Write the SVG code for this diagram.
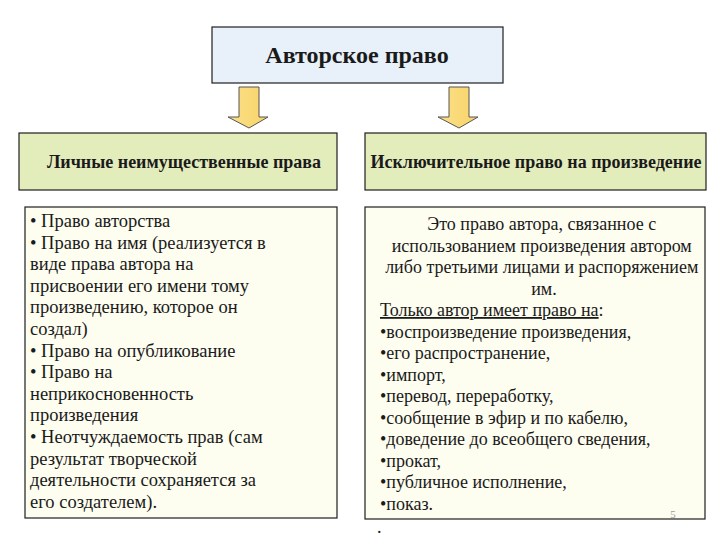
<svg xmlns="http://www.w3.org/2000/svg" width="720" height="540" viewBox="0 0 720 540" font-family="'Liberation Serif', 'DejaVu Serif', serif">
<defs>
<linearGradient id="ag" x1="0" y1="0" x2="1" y2="0">
<stop offset="0" stop-color="#fbe08a"/>
<stop offset="1" stop-color="#f8d468"/>
</linearGradient>
<style>
.box{stroke:#1e1e1e;stroke-width:1.2}
.top{fill:#e8f1fa}
.hdr{fill:#e3ecbb}
.cnt{fill:#fdfdf0}
.arrow{fill:url(#ag);stroke:#555;stroke-width:1}
text{font-family:'Liberation Serif','DejaVu Serif',serif;fill:#1a1a1a}
.title{font-size:24px;font-weight:bold}
.h{font-size:18px;font-weight:bold}
.b{font-size:18px}
.bl{font-size:18.5px}
</style>
</defs>
<rect width="720" height="540" fill="#ffffff"/>
<g id="top">
<rect class="box top" x="212" y="27" width="291" height="56"/>
<text class="title" x="357" y="63" text-anchor="middle">Авторское право</text>
</g>
<g id="connectors">
<path class="arrow" d="M239,87 H259 V117 H268 L249,128 L228,117 H239 Z"/>
<path class="arrow" d="M449,87 H469 V117 H478 L459,128 L438,117 H449 Z"/>
</g>
<g id="left-header">
<rect class="box hdr" x="19" y="133" width="318" height="57"/>
<text class="h" x="184" y="168" text-anchor="middle">Личные неимущественные права</text>
</g>
<g id="right-header">
<rect class="box hdr" x="365" y="133" width="341" height="57"/>
<text class="h" x="536" y="168" text-anchor="middle">Исключительное право на произведение</text>
</g>
<g id="left-content">
<rect class="box cnt" x="25" y="207" width="312" height="311"/>
<text class="bl">
<tspan x="30" y="227">• Право авторства</tspan>
<tspan x="30" y="248.6">• Право на имя (реализуется в</tspan>
<tspan x="30" y="270.2">виде права автора на</tspan>
<tspan x="30" y="291.8">присвоении его имени тому</tspan>
<tspan x="30" y="313.4">произведению, которое он</tspan>
<tspan x="30" y="335">создал)</tspan>
<tspan x="30" y="356.6">• Право на опубликование</tspan>
<tspan x="30" y="378.2">• Право на</tspan>
<tspan x="30" y="399.8">неприкосновенность</tspan>
<tspan x="30" y="421.4">произведения</tspan>
<tspan x="30" y="443">• Неотчуждаемость прав (сам</tspan>
<tspan x="30" y="464.6">результат творческой</tspan>
<tspan x="30" y="486.2">деятельности сохраняется за</tspan>
<tspan x="30" y="507.8">его создателем).</tspan>
</text>
</g>
<g id="right-content">
<rect class="box cnt" x="365" y="207" width="340" height="312"/>
<text class="b" text-anchor="middle">
<tspan x="544" y="230">Это право автора, связанное с</tspan>
<tspan x="544" y="251.5">использованием произведения автором</tspan>
<tspan x="544" y="273">либо третьими лицами и распоряжением</tspan>
<tspan x="544" y="294.5">им.</tspan>
</text>
<text class="b" x="380" y="316"><tspan text-decoration="underline">Только автор имеет право на</tspan>:</text>
<text class="b">
<tspan x="380" y="337.5">•воспроизведение произведения,</tspan>
<tspan x="380" y="359">•его распространение,</tspan>
<tspan x="380" y="380.5">•импорт,</tspan>
<tspan x="380" y="402">•перевод, переработку,</tspan>
<tspan x="380" y="423.5">•сообщение в эфир и по кабелю,</tspan>
<tspan x="380" y="445">•доведение до всеобщего сведения,</tspan>
<tspan x="380" y="466.5">•прокат,</tspan>
<tspan x="380" y="488">•публичное исполнение,</tspan>
<tspan x="380" y="509.5">•показ.</tspan>
</text>
<text x="673" y="518" font-size="11" style="fill:#9a9a9a" text-anchor="middle">5</text>
<text class="b" x="377" y="533">.</text>
</g>
</svg>
